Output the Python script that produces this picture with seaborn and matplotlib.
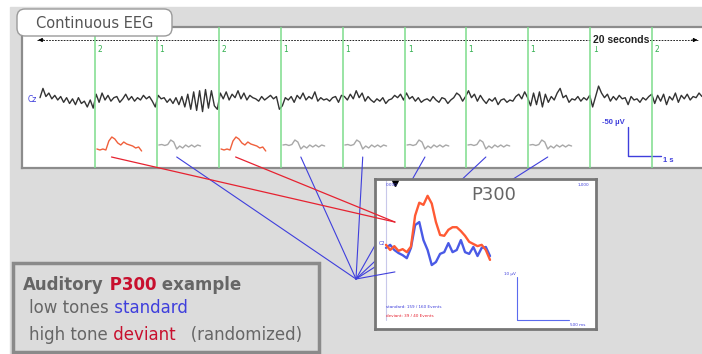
import numpy as np
import pandas as pd
import matplotlib
matplotlib.use("Agg")
import matplotlib.pyplot as plt
import seaborn as sns
from matplotlib.patches import Rectangle, FancyBboxPatch, ConnectionPatch

sns.set_style("white")
plt.rcParams["font.family"] = ["DejaVu Sans"]

# --- data ---------------------------------------------------------------
# continuous EEG at Cz, 20 s, amplitude in microvolts
eeg_uv = [
    4, 20, 6, 12, 2, 8, 0, 6, -4, 4, -6, 2, -8, 4, -6, -2, -12, 0, -14,
    10, -4, 12, 0, 8, -2, 4, 6, -4, 2, 10, 0, 6, -2, 4, 0, 8, 2, 6, -2, -12,
    8, 2, 4, -4, 2, -6, 4, -8, 6, -12, 10, -16, 14, -18, 16, -20, 18, -14, 16, -10, -16,
    12, 2, 14, 0, 10, 4, 16, 2, 12, 0, 8, 4, 2, -2, 6, 0, 4, 8, 2, 6, -16,
    -10, 4, 0, 6, -4, 8, 2, 12, 0, 6, 2, 14, -2, 4, 0, 2, -2, 4, 6, -4, 8,
    6, 0, 10, 2, 16, 4, 12, -2, 6, 0, -4, 2, -2, 4, -6, 0, 2, 8, 4, 10, 0,
    12, 2, 6, -2, 4, -4, 0, 2, -2, 6, 0, -4, 4, 2, -6, 0, 4, 12, 8, -2, 6,
    16, 4, 10, -2, 8, 0, -6, 2, -2, 4, -8, 0, 2, -4, 0, -2, 6, 10, 2, 14, 4,
    -10, 12, -8, 14, -12, 10, -4, 6, 0, 12, 20, 4, 8, -4, 2, 0, 6, -2, 4, 0, 8,
    -12, 6, 24, 12, 4, 10, -2, 6, 0, 8, 2, 4, -8, 6, 0, 2, -4, 4, 0, 6, 10,
    -6, 8, -2, 10, -8, 6, 0, 12, -4, 8, 2, 10, 0, 6, 4, 12, 6,
]
event_t = [1.66, 3.53, 5.41, 7.28, 9.15, 11.03, 12.87, 14.74, 16.62, 18.49]
event_code = [2, 1, 2, 1, 1, 1, 1, 1, 1, 2]

# single-trial snippets shown under the first 8 markers
mini_deviant = [0, -2, 0, -2, 16, 24, 20, 12, 8, 14, 10, 8, 6, 2, 4, -4]
mini_standard = [0, 1, -1, 1, 10, 6, -8, -2, -6, 0, -4, 0, -4, 0, -2]

# averaged ERP (0-1000 ms, 40 ms steps), microvolts
p300_ms = [0, 40, 80, 120, 160, 200, 240, 280, 320, 360, 400, 440, 480,
           520, 560, 600, 640, 680, 720, 760, 800, 840, 880, 920, 960, 1000]
p300_deviant = [1.2, 0.0, 0.9, -0.2, 0.2, -0.5, 0.8, 8.0, 11.0, 10.5, 12.6, 10.8, 6.5,
                3.5, 3.3, 4.7, 5.3, 5.3, 4.4, 3.3, 1.9, 1.4, 0.9, 1.2, 0.0, -2.3]
p300_standard = [0.5, 1.2, 0.0, -0.7, -1.2, -1.9, 0.5, 5.8, 6.5, 2.3, 0.0, -3.5, -2.8,
                 -0.9, -0.5, 1.6, -0.5, 0.0, 2.3, -0.5, -0.9, 0.7, -1.4, 0.5, 0.7, -1.4]

GREY_BG = "#dcdcdc"
BLUE = "#3f3fdc"
RED = "#e62230"
CRIMSON = "#c8102e"
TXT = "#666666"
NARROW = ["Liberation Sans Narrow", "Liberation Sans"]

W, H = 702, 354
fig = plt.figure(figsize=(W / 100, H / 100), dpi=100, facecolor="white")


def box(x0, y0, x1, y1):
    return [x0 / W, 1 - y1 / H, (x1 - x0) / W, (y1 - y0) / H]


# background (pixel coordinates)
bg = fig.add_axes([0, 0, 1, 1], zorder=-1)
bg.set_xlim(0, W)
bg.set_ylim(H, 0)
bg.axis("off")
bg.add_patch(Rectangle((10, 7), W, H, color=GREY_BG))

# --- continuous EEG panel -------------------------------------------------
PX_S = 33.1   # px per second
PX_UV = 0.58  # px per microvolt
ax = fig.add_axes(box(22, 27, 702, 168), zorder=1)
ax.set_xlim((22 - 40) / PX_S, (702 - 40) / PX_S)
ax.set_ylim(-(168 - 100) / PX_UV, (100 - 27) / PX_UV)
ax.set_facecolor("white")
for s in ["top", "bottom", "left"]:
    ax.spines[s].set_color("#8c8c8c")
    ax.spines[s].set_linewidth(1.6)
ax.spines["right"].set_visible(False)
ax.set_xticks([])
ax.set_yticks([])

eeg = pd.DataFrame({"t": np.linspace(0, 20, len(eeg_uv)), "uv": eeg_uv})
sns.lineplot(data=eeg, x="t", y="uv", ax=ax, color="#333333", lw=1.0,
             estimator=None, sort=False)

for t, code in zip(event_t, event_code):
    ax.axvline(t, color="#7ddc8c", lw=1.1, zorder=3)
    ax.text(t + 0.08, 50 / PX_UV, str(code), color="#33b050", fontsize=5.5, va="center")

rows = []
for i, (t, code) in enumerate(zip(event_t[:8], event_code[:8])):
    vals = mini_deviant if code == 2 else mini_standard
    base = -49 / PX_UV if code == 2 else -45 / PX_UV
    for k, v in enumerate(vals):
        rows.append({"ev": i, "kind": "deviant" if code == 2 else "standard",
                     "t": t + 0.06 + k * 0.09, "uv": base + v / (2 * PX_UV)})
mini = pd.DataFrame(rows)
sns.lineplot(data=mini, x="t", y="uv", hue="kind", units="ev", estimator=None,
             palette={"deviant": "#f0603c", "standard": "#a8a8a8"}, lw=1.0,
             legend=False, ax=ax, sort=False)
ax.set_xlabel("")
ax.set_ylabel("")

ax.text(-0.36, 0, "Cz", color=BLUE, fontsize=5.5, va="center")

# 20 s arrow
ya = 60 / PX_UV
ax.plot([-0.1, 19.9], [ya, ya], color="black", lw=0.6, ls=(0, (2, 1.5)))
ax.annotate("", xy=(-0.14, ya), xytext=(0.2, ya),
            arrowprops=dict(arrowstyle="-|>", color="black", lw=0.6, mutation_scale=6))
ax.annotate("", xy=(19.95, ya), xytext=(19.6, ya),
            arrowprops=dict(arrowstyle="-|>", color="black", lw=0.6, mutation_scale=6))
ax.text(17.55, ya, "20 seconds", ha="center", va="center", fontsize=7.5,
        fontweight="bold", family=NARROW,
        color="#222222", bbox=dict(fc="white", ec="none", pad=1))

# scale bar: 50 uV x 1 s
sx = (628 - 40) / PX_S
y0 = -27 / PX_UV
ax.plot([sx, sx, sx + 1], [y0, y0 - 50, y0 - 50], color=BLUE, lw=1.0)
ax.text(sx - 0.1, y0 + 8, "-50 µV", color=BLUE, fontsize=5.5, fontweight="bold",
        ha="right", va="center", family=NARROW)
ax.text(sx + 1.05, y0 - 58, "1 s", color=BLUE, fontsize=5.5, fontweight="bold",
        ha="left", va="center", family=NARROW)

# tab
fig.add_artist(FancyBboxPatch((17, 9), 155, 27, boxstyle="round,pad=0,rounding_size=8",
                              fc="white", ec="#9a9a9a", lw=1.0,
                              transform=bg.transData, zorder=3))
fig.add_artist(plt.Text(95, 23, "Continuous EEG", ha="center", va="center",
                        fontsize=10.5, color="#555555", transform=bg.transData,
                        zorder=4))

# --- averaged P300 inset ---------------------------------------------------
PX_MS = 0.104
IN_UV = 4.3
axi = fig.add_axes(box(375, 179, 596, 329), zorder=5)
axi.set_xlim((375 - 386) / PX_MS, (596 - 386) / PX_MS)
axi.set_ylim(-(329 - 250) / IN_UV, (250 - 179) / IN_UV)
axi.set_facecolor("white")
for s in axi.spines.values():
    s.set_color("#777777")
    s.set_linewidth(2)
axi.set_xticks([])
axi.set_yticks([])

axi.plot([0, 0], [16.3, -16.3], color="#c8c8ea", lw=0.8)
erp = pd.DataFrame({"ms": p300_ms * 2,
                    "uv": p300_standard + p300_deviant,
                    "cond": ["standard"] * len(p300_ms) + ["deviant"] * len(p300_ms)})
sns.lineplot(data=erp, x="ms", y="uv", hue="cond", estimator=None, sort=False,
             palette={"standard": "#4a5ae6", "deviant": "#ff5a34"}, lw=1.7,
             legend=False, ax=axi)
axi.set_xlabel("")
axi.set_ylabel("")

axi.plot([86], [15.6], marker="v", color="black", ms=4)
axi.text(2, 15.2, "0.000", color=BLUE, fontsize=3, va="center")
axi.text(1950, 15.2, "1,000", color=BLUE, fontsize=3, va="center", ha="right")
axi.text(-8, 1.5, "C2", color=BLUE, fontsize=3.5, va="center", ha="right")
axi.text(2, -13.3, "standard: 159 / 160 Events", color=BLUE, fontsize=3, va="center")
axi.text(2, -15.3, "deviant: 39 / 40 Events", color=RED, fontsize=3, va="center")
axi.text(0.535, 0.89, "P300", transform=axi.transAxes, ha="center", va="center",
         fontsize=13, color="#666666")
axi.plot([1260, 1260, 1760], [-6.3, -16.3, -16.3], color="#5b6bee", lw=0.8)
axi.text(1245, -5.5, "10 µV", color=BLUE, fontsize=3, ha="right", va="center")
axi.text(1770, -17.4, "500 ms", color=BLUE, fontsize=3, va="center")

# --- connectors ------------------------------------------------------------
hub = (356, 279)
y_start = -57 / PX_UV
for t, code in zip(event_t[:8], event_code[:8]):
    if code == 2:
        c = ConnectionPatch(xyA=(t + 0.5, y_start), coordsA=ax.transData,
                            xyB=(86, 6.5), coordsB=axi.transData,
                            color=RED, lw=0.9, zorder=6)
    else:
        c = ConnectionPatch(xyA=(t + 0.6, y_start), coordsA=ax.transData,
                            xyB=hub, coordsB=bg.transData,
                            color=BLUE, lw=0.8, zorder=2)
    fig.add_artist(c)
fig.add_artist(ConnectionPatch(xyA=hub, coordsA=bg.transData, xyB=(86, -5.1),
                               coordsB=axi.transData, color=BLUE, lw=0.8, zorder=6))

# --- caption box -------------------------------------------------------------
bg.add_patch(Rectangle((13, 263), 306, 89, fc=GREY_BG, ec="#8a8a8a", lw=2.5))


def colored_line(x, y, pieces, **kw):
    t = bg.text(x, y, pieces[0][0], color=pieces[0][1], va="bottom", **kw)
    for s, col in pieces[1:]:
        t = bg.annotate(s, xy=(1, 0), xycoords=t, va="bottom", color=col, **kw)


colored_line(23, 294, [("Auditory", TXT), (" P300", CRIMSON), (" example", TXT)],
             fontsize=12, fontweight="bold")
colored_line(29, 317, [("low tones", TXT), (" standard", BLUE)], fontsize=12)
colored_line(29, 344, [("high tone", TXT), (" deviant", CRIMSON), ("   (randomized)", TXT)],
             fontsize=12)

fig.savefig("out.png", dpi=100, facecolor=fig.get_facecolor())
